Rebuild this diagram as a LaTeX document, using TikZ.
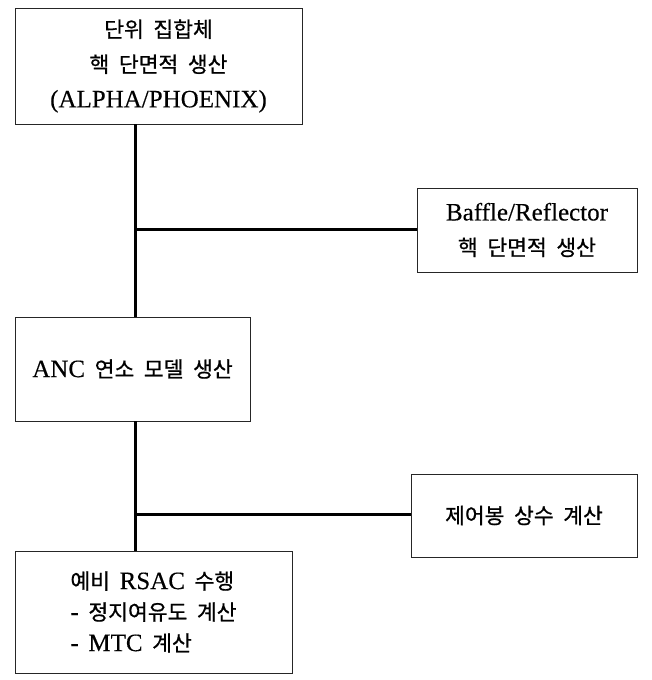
\documentclass[tikz,border=0pt]{standalone}
\usepackage{fontspec}
\setmainfont{Liberation Serif}[FakeBold=0.3]
\newfontfamily\hangul{Noto Sans CJK KR}[Scale=0.86, WordSpace=2.0, FakeBold=0.7]
\usepackage{tikz}
\usetikzlibrary{positioning}

\begin{document}
\begin{tikzpicture}[x=1pt, y=1pt,
    every node/.style={draw=black!85, line width=0.8pt, inner sep=0pt, font=\fontsize{25}{35}\selectfont},
    link/.style={line width=3pt}]
    \useasboundingbox (0,0) rectangle (651,-680);

    % Boxes
    \node[minimum width=287, minimum height=116, align=center] (B_UNIT) at (158.5,-66)
        {{\hangul 단위 집합체}\\{\hangul 핵 단면적 생산}\\(ALPHA/PHOENIX)};
    \node[minimum width=220, minimum height=84, align=center] (B_BAFF) at (527,-230)
        {Baffle/Reflector\\{\hangul 핵 단면적 생산}};
    \node[minimum width=235, minimum height=104] (B_ANC) at (132.5,-369)
        {ANC{\hangul\ 연소 모델 생산}};
    \node[minimum width=226, minimum height=83] (B_ROD) at (524,-515.5)
        {\hangul 제어봉 상수 계산};
    \node[minimum width=277, minimum height=122, align=left,
          font=\fontsize{25}{31}\selectfont] (B_RSAC) at (153.5,-612)
        {{\hangul 예비\ }RSAC{\hangul\ 수행}\\-{\hangul\ 정지여유도 계산}\\-{\hangul\ }MTC{\hangul\ 계산}};

    % Junctions on the trunk
    \coordinate (J_1) at (135,-229);
    \coordinate (J_2) at (135,-514);

    % Connectors
    \draw[link] (B_UNIT.south -| J_1) -- (B_ANC.north -| J_1);
    \draw[link] (J_1) -- (B_BAFF.west |- J_1);
    \draw[link] (B_ANC.south -| J_2) -- (B_RSAC.north -| J_2);
    \draw[link] (J_2) -- (B_ROD.west |- J_2);

\end{tikzpicture}
\end{document}
